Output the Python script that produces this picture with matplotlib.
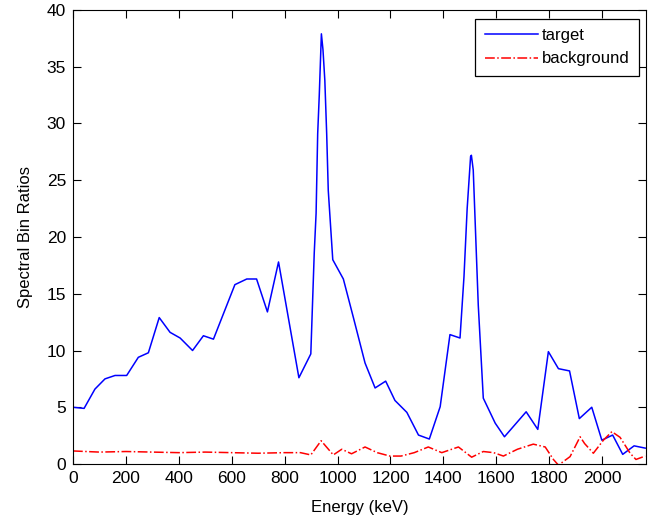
import matplotlib

matplotlib.use("Agg")
import matplotlib.pyplot as plt

# energies (keV) and ratios
target_energy = [0, 42, 83, 121, 159, 203, 247, 285, 326, 367, 405, 452, 493, 531,
                 612, 657, 694, 735, 777, 854, 899, 912, 919, 925, 931, 939, 945,
                 952, 959, 965, 982, 1022, 1060, 1104, 1142, 1182, 1217, 1262, 1306,
                 1347, 1388, 1425, 1463, 1478, 1490, 1503, 1506, 1513, 1520, 1532,
                 1551, 1596, 1631, 1713, 1757, 1797, 1835, 1877, 1914, 1961, 1999,
                 2040, 2078, 2121, 2163]
target_ratio = [5.0, 4.9, 6.6, 7.5, 7.8, 7.8, 9.4, 9.8, 12.9, 11.6, 11.1, 10.0, 11.3, 11.0,
                15.8, 16.3, 16.3, 13.4, 17.8, 7.6, 9.7, 18.6, 22.1, 29.1, 32.5, 37.9, 36.5,
                33.8, 29.1, 24.1, 18.0, 16.3, 12.9, 8.9, 6.7, 7.3, 5.6, 4.55, 2.55,
                2.2, 5.05, 11.4, 11.1, 16.5, 22.5, 27.1, 27.2, 25.9, 21.5, 14.0,
                5.8, 3.6, 2.4, 4.6, 3.05, 9.9, 8.4, 8.2, 4.0, 5.0, 2.1,
                2.55, 0.85, 1.6, 1.4]

bg_energy = [0, 100, 200, 300, 400, 500, 600, 700, 800, 860, 899, 938, 984, 1016,
             1053, 1104, 1150, 1198, 1240, 1290, 1343, 1394, 1457, 1507, 1551, 1590,
             1627, 1680, 1740, 1785, 1816, 1835, 1879, 1917, 1934, 1967, 2005, 2037,
             2068, 2106, 2128, 2163]
bg_ratio = [1.15, 1.05, 1.1, 1.05, 1.0, 1.05, 1.0, 0.95, 1.0, 1.0, 0.8, 2.05, 0.8, 1.3,
            0.9, 1.5, 1.0, 0.7, 0.7, 1.0, 1.5, 1.0, 1.5, 0.6, 1.1, 1.0,
            0.7, 1.3, 1.75, 1.5, 0.4, -0.1, 0.65, 2.4, 1.8, 0.95, 2.1, 2.85,
            2.35, 0.95, 0.4, 0.7]

x_ticks = list(range(0, 2001, 200))
y_ticks = list(range(0, 41, 5))

plt.rcParams["font.family"] = ["Liberation Sans", "DejaVu Sans"]

fig = plt.figure(figsize=(6.61, 5.23), dpi=100)
ax = fig.add_axes([0.1104, 0.1128, 0.8669, 0.8681])

ax.plot(target_energy, target_ratio, color="#0000ff", lw=1.1, label="target")
ax.plot(bg_energy, bg_ratio, color="#ff0000", lw=1.1, ls="-.", label="background")

ax.set_xlim(0, 2166)
ax.set_ylim(0, 40)
ax.set_xticks(x_ticks)
ax.set_yticks(y_ticks)
ax.tick_params(direction="in", top=True, right=True, length=6, width=0.8,
               labelsize=12.5, pad=5)
for s in ax.spines.values():
    s.set_linewidth(0.8)

ax.set_xlabel("Energy (keV)", fontsize=12, labelpad=10)
ax.set_ylabel("Spectral Bin Ratios", fontsize=12, labelpad=10)

leg = ax.legend(loc="upper right", bbox_to_anchor=(639 / 661, 1 - 19 / 523),
                bbox_transform=fig.transFigure, borderaxespad=0, fancybox=False,
                edgecolor="black", framealpha=1, fontsize=12, handlelength=3.2,
                handletextpad=0.25, borderpad=0.55, labelspacing=0.5)
leg.get_frame().set_linewidth(0.9)

fig.savefig("out.png", dpi=100)
